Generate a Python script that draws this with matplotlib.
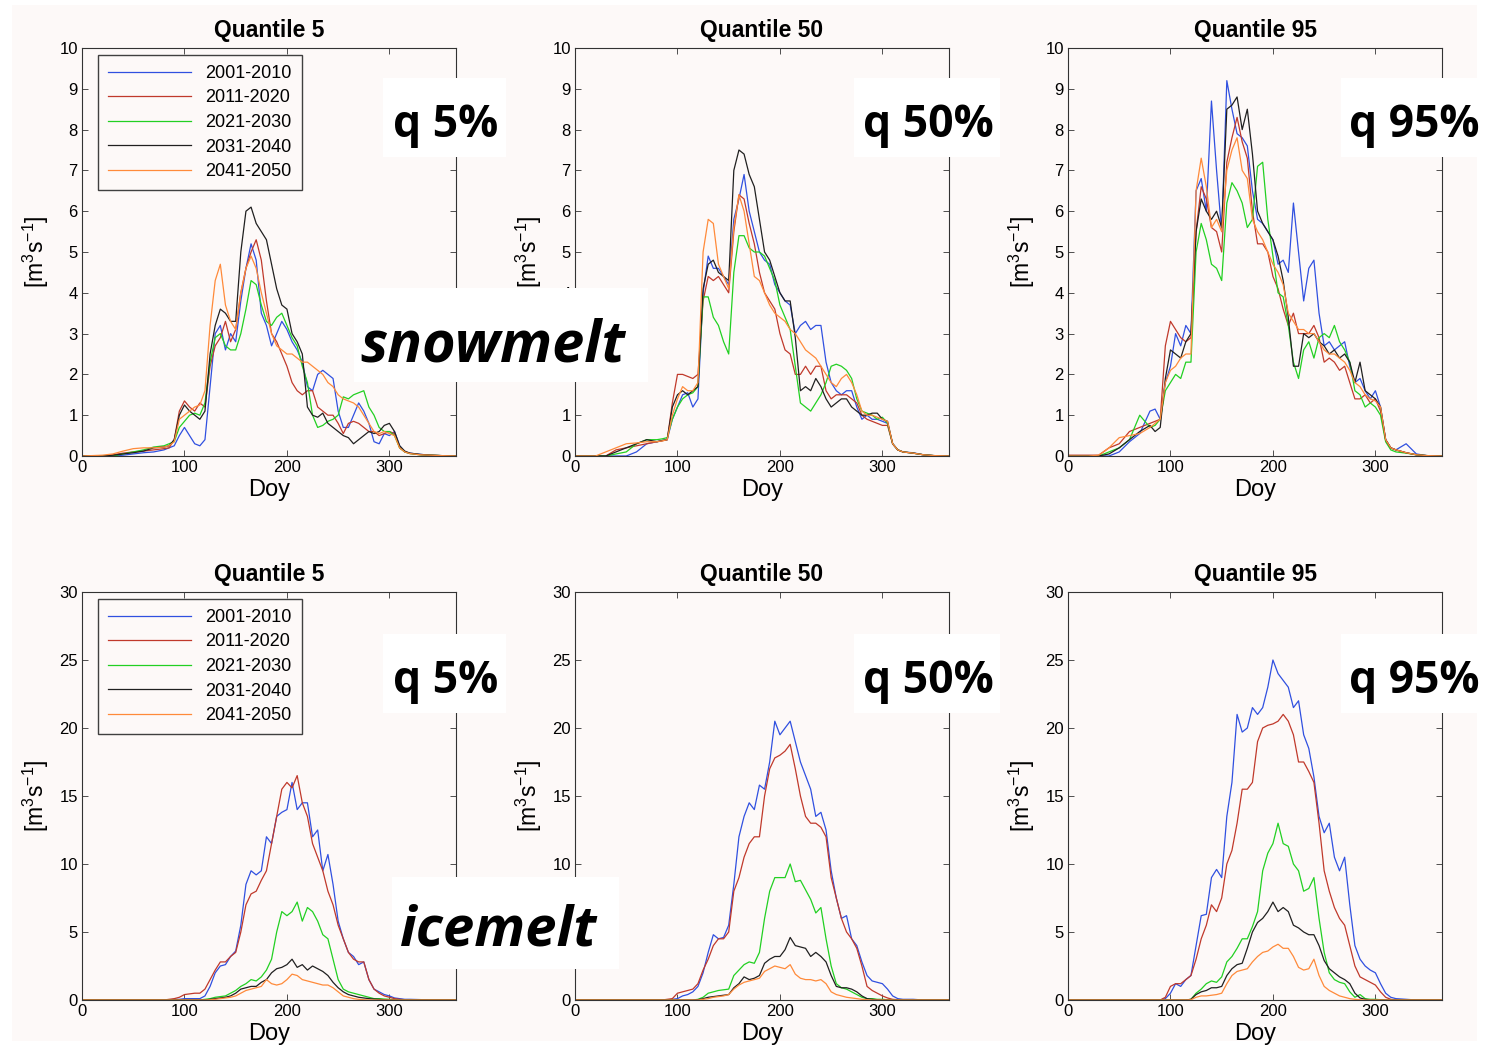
import numpy as np
import matplotlib
matplotlib.use("Agg")
import matplotlib.pyplot as plt
from matplotlib.patches import Rectangle

W, H = 1497, 1048
BG = "#fdf9f8"

# day-of-year sample points
DOY = [0, 20, 30, 40, 50, 60, 70, 80, 85,
       90, 95, 100, 105, 110, 115, 120, 125, 130, 135, 140, 145, 150,
       155, 160, 165, 170, 175, 180, 185, 190, 195, 200, 205,
       210, 215, 220, 225, 230, 235, 240, 245, 250, 255, 260, 265, 270,
       275, 280, 285, 290, 295, 300, 305, 310, 315, 320,
       330, 340, 350, 365]

PERIODS = ["2001-2010", "2011-2020", "2021-2030", "2031-2040", "2041-2050"]
QUANTILES = ["Quantile 5", "Quantile 50", "Quantile 95"]
Q_TAGS = ["q 5%", "q 50%", "q 95%"]

# ---- snowmelt, quantile 5
snow_q5_2001 = [0, 0, 0, 0.02, 0.05, 0.08, 0.1, 0.15, 0.2,
                0.25, 0.5, 0.7, 0.5, 0.3, 0.25, 0.4, 1.7, 3.0, 3.2, 2.6, 3.0, 2.8, 3.8, 4.6, 5.2, 4.8, 3.5, 3.2, 2.7, 3.0, 3.3, 3.1, 2.8,
                2.6, 2.3, 1.7, 1.6, 2.0, 2.1, 2.0, 1.9, 1.1, 0.7, 0.7, 1.0, 1.3, 1.1, 0.8, 0.35, 0.3, 0.55, 0.5, 0.6, 0.25, 0.1, 0.07,
                0.04, 0.02, 0.01, 0]
snow_q5_2011 = [0, 0, 0.03, 0.07, 0.1, 0.12, 0.15, 0.18, 0.2,
                0.4, 1.1, 1.35, 1.2, 1.1, 1.3, 1.2, 2.2, 2.7, 2.9, 3.3, 2.8, 3.1, 4.0, 4.6, 5.0, 5.3, 4.8, 3.8, 3.0, 2.8, 2.5, 2.2, 1.8,
                1.6, 1.5, 1.6, 1.6, 1.2, 1.1, 1.0, 1.0, 0.8, 0.55, 0.8, 0.85, 0.8, 0.7, 0.6, 0.6, 0.5, 0.55, 0.6, 0.55, 0.2, 0.1, 0.06,
                0.03, 0.02, 0.01, 0]
snow_q5_2021 = [0, 0, 0, 0.05, 0.1, 0.15, 0.22, 0.25, 0.3,
                0.35, 0.7, 0.85, 1.0, 1.05, 1.0, 1.3, 2.3, 2.9, 3.0, 2.7, 2.6, 2.6, 3.0, 3.6, 4.3, 4.2, 3.7, 3.3, 3.2, 3.4, 3.5, 3.2, 2.9,
                2.7, 2.2, 1.8, 1.0, 0.7, 0.75, 0.85, 0.9, 1.0, 1.45, 1.4, 1.5, 1.55, 1.6, 1.2, 1.0, 0.7, 0.6, 0.6, 0.5, 0.2, 0.1, 0.06,
                0.03, 0.02, 0.01, 0]
snow_q5_2031 = [0, 0, 0.02, 0.05, 0.08, 0.12, 0.2, 0.22, 0.25,
                0.4, 1.0, 1.25, 1.1, 1.0, 0.9, 1.1, 2.5, 3.2, 3.6, 3.5, 3.3, 3.3, 5.0, 6.0, 6.1, 5.7, 5.5, 5.3, 4.7, 4.1, 3.7, 3.6, 3.0,
                2.8, 2.5, 1.2, 1.0, 0.95, 1.05, 0.8, 0.7, 0.6, 0.5, 0.45, 0.3, 0.4, 0.5, 0.6, 0.55, 0.6, 0.75, 0.8, 0.6, 0.25, 0.12, 0.07,
                0.04, 0.02, 0.01, 0]
snow_q5_2041 = [0, 0.02, 0.05, 0.12, 0.18, 0.2, 0.2, 0.22, 0.25,
                0.35, 0.9, 1.0, 1.1, 1.2, 1.25, 1.6, 3.2, 4.3, 4.7, 3.7, 3.3, 3.1, 4.0, 4.6, 4.9, 4.6, 4.0, 3.5, 3.0, 2.7, 2.6, 2.5, 2.5,
                2.4, 2.3, 2.3, 2.2, 2.1, 2.0, 1.8, 1.7, 1.5, 1.4, 1.35, 1.3, 1.2, 1.0, 0.8, 0.6, 0.55, 0.6, 0.55, 0.5, 0.2, 0.1, 0.06,
                0.03, 0.02, 0.01, 0]

# ---- snowmelt, quantile 50
snow_q50_2001 = [0, 0, 0, 0, 0, 0.1, 0.3, 0.35, 0.38,
                 0.4, 0.9, 1.2, 1.5, 1.55, 1.2, 1.4, 4.0, 4.9, 4.6, 4.6, 4.4, 4.2, 5.8, 6.3, 6.9, 6.0, 5.5, 5.0, 4.8, 4.7, 4.2, 4.0, 3.8,
                 3.7, 3.0, 3.2, 3.3, 3.1, 3.2, 3.2, 2.3, 1.8, 1.6, 1.5, 1.6, 1.6, 1.2, 0.9, 1.0, 0.9, 0.9, 0.85, 0.8, 0.3, 0.15, 0.1,
                 0.08, 0.03, 0.01, 0]
snow_q50_2011 = [0, 0, 0, 0.15, 0.2, 0.25, 0.3, 0.35, 0.37,
                 0.4, 1.3, 2.0, 2.0, 1.95, 1.9, 2.0, 3.8, 4.4, 4.3, 4.4, 4.2, 4.0, 5.5, 6.4, 6.3, 5.7, 5.2, 4.5, 4.0, 3.8, 3.6, 3.0, 2.6,
                 2.5, 2.0, 2.0, 2.2, 2.0, 2.2, 2.2, 1.6, 1.4, 1.5, 1.5, 1.5, 1.4, 1.3, 1.0, 0.9, 0.85, 0.8, 0.75, 0.75, 0.3, 0.15, 0.1,
                 0.07, 0.03, 0.01, 0]
snow_q50_2021 = [0, 0, 0, 0.05, 0.1, 0.3, 0.4, 0.4, 0.42,
                 0.45, 0.9, 1.2, 1.4, 1.5, 1.55, 1.7, 3.9, 3.9, 3.4, 3.2, 2.8, 2.5, 4.5, 5.4, 5.4, 5.1, 5.0, 5.0, 4.9, 4.6, 4.3, 3.7, 3.4,
                 3.1, 2.2, 1.3, 1.2, 1.1, 1.3, 1.5, 1.8, 2.2, 2.25, 2.2, 2.1, 1.9, 1.4, 1.1, 1.05, 1.0, 0.9, 0.95, 0.8, 0.3, 0.15, 0.1,
                 0.07, 0.03, 0.01, 0]
snow_q50_2031 = [0, 0, 0, 0.1, 0.2, 0.3, 0.4, 0.35, 0.38,
                 0.4, 1.2, 1.5, 1.6, 1.5, 1.6, 1.7, 4.1, 4.7, 4.8, 4.5, 4.4, 4.3, 7.0, 7.5, 7.4, 6.9, 6.6, 5.8, 5.0, 4.8, 4.4, 4.0, 3.8,
                 3.8, 2.9, 1.6, 1.7, 1.6, 1.9, 1.7, 1.4, 1.2, 1.3, 1.4, 1.4, 1.2, 1.1, 1.0, 1.0, 1.05, 1.05, 0.9, 0.85, 0.3, 0.15, 0.1,
                 0.07, 0.03, 0.01, 0]
snow_q50_2041 = [0, 0, 0.1, 0.2, 0.3, 0.32, 0.35, 0.35, 0.37,
                 0.4, 1.0, 1.4, 1.7, 1.6, 1.6, 1.8, 5.0, 5.8, 5.7, 4.7, 4.4, 4.1, 5.6, 6.4, 6.0, 5.2, 4.4, 4.3, 4.0, 3.7, 3.5, 3.4, 3.3,
                 3.1, 3.0, 2.8, 2.6, 2.5, 2.4, 2.2, 2.0, 1.8, 1.7, 1.9, 2.0, 1.8, 1.5, 1.1, 1.0, 1.0, 0.95, 0.9, 0.85, 0.3, 0.15, 0.1,
                 0.07, 0.03, 0.01, 0]

# ---- snowmelt, quantile 95
snow_q95_2001 = [0, 0, 0, 0, 0.1, 0.35, 0.55, 1.1, 1.15,
                 0.9, 1.8, 2.2, 3.0, 2.7, 3.2, 3.0, 6.5, 6.8, 6.0, 8.7, 7.0, 5.5, 9.2, 8.5, 7.9, 7.8, 7.6, 6.5, 5.8, 5.7, 5.5, 5.3, 4.7,
                 4.8, 4.5, 6.2, 5.0, 3.8, 4.6, 4.8, 3.5, 2.7, 2.8, 2.6, 2.7, 2.8, 2.2, 1.8, 1.9, 1.6, 1.4, 1.6, 1.2, 0.4, 0.2, 0.15,
                 0.3, 0.05, 0.01, 0]
snow_q95_2011 = [0.02, 0.02, 0.02, 0.2, 0.3, 0.6, 0.7, 0.8, 0.85,
                 0.9, 2.7, 3.3, 3.1, 2.9, 2.8, 2.9, 5.5, 6.6, 6.3, 5.6, 5.5, 5.0, 7.2, 7.8, 8.3, 7.7, 7.3, 6.0, 5.2, 5.2, 5.0, 4.4, 4.1,
                 3.6, 3.2, 3.5, 3.0, 3.0, 3.0, 3.2, 2.9, 2.3, 2.4, 2.3, 2.1, 2.2, 1.8, 1.4, 1.4, 1.5, 1.3, 1.4, 1.1, 0.4, 0.2, 0.15,
                 0.08, 0.03, 0.01, 0]
snow_q95_2021 = [0, 0, 0, 0.1, 0.2, 0.4, 1.0, 0.7, 0.75,
                 0.9, 1.6, 1.8, 2.0, 1.9, 2.3, 2.3, 5.0, 5.7, 5.3, 4.7, 4.6, 4.3, 6.2, 6.7, 6.5, 6.2, 5.6, 5.8, 7.1, 7.2, 5.8, 4.9, 4.0,
                 3.9, 3.2, 2.3, 1.9, 2.6, 2.8, 2.4, 2.9, 3.0, 2.9, 3.2, 2.8, 2.6, 2.3, 1.6, 1.5, 1.2, 1.3, 1.2, 1.0, 0.35, 0.15, 0.1,
                 0.07, 0.03, 0.01, 0]
snow_q95_2031 = [0, 0, 0, 0.05, 0.2, 0.4, 0.6, 0.75, 0.6,
                 0.7, 1.9, 2.6, 2.5, 2.4, 2.8, 3.0, 5.5, 6.3, 6.0, 5.8, 6.0, 5.6, 8.5, 8.6, 8.8, 8.0, 8.5, 7.4, 6.0, 5.7, 5.5, 5.3, 4.9,
                 4.3, 3.4, 2.2, 2.2, 3.0, 2.9, 3.0, 2.8, 2.7, 2.5, 2.6, 2.4, 2.5, 2.3, 1.8, 2.3, 1.6, 1.5, 1.4, 1.2, 0.4, 0.2, 0.15,
                 0.08, 0.03, 0.01, 0]
snow_q95_2041 = [0, 0, 0.02, 0.2, 0.45, 0.5, 0.55, 0.7, 0.8,
                 0.9, 1.8, 2.1, 2.2, 2.4, 2.5, 2.5, 6.5, 7.3, 6.6, 5.6, 5.8, 5.5, 7.0, 7.5, 7.8, 7.0, 6.8, 5.8, 5.5, 5.3, 5.0, 4.7, 4.5,
                 4.2, 3.5, 3.3, 3.1, 3.1, 3.0, 3.0, 2.8, 2.6, 2.5, 2.5, 2.4, 2.3, 2.1, 1.8, 1.7, 1.5, 1.4, 1.35, 1.2, 0.4, 0.2, 0.15,
                 0.08, 0.03, 0.01, 0]

# ---- icemelt, quantile 5
ice_q5_2001 = [0, 0, 0, 0, 0, 0, 0, 0, 0,
               0.05, 0.05, 0.1, 0.1, 0.1, 0.1, 0.3, 1.0, 2.0, 2.5, 2.6, 3.2, 3.6, 5.5, 8.5, 9.5, 9.2, 9.5, 12.0, 11.5, 13.5, 13.8, 14.0, 16.0,
               14.0, 14.5, 14.5, 12.0, 12.5, 9.5, 10.7, 8.5, 5.8, 4.5, 3.5, 3.2, 2.6, 2.8, 1.5, 0.8, 0.6, 0.4, 0.3, 0.15, 0.1, 0.05, 0.05,
               0.03, 0, 0, 0]
ice_q5_2011 = [0, 0, 0, 0, 0, 0, 0, 0, 0.05,
               0.1, 0.2, 0.4, 0.45, 0.5, 0.5, 0.8, 1.5, 2.2, 2.8, 2.8, 3.2, 3.5, 5.0, 7.0, 7.8, 8.0, 8.8, 9.5, 11.5, 13.5, 15.5, 16.0, 15.6,
               16.5, 14.5, 13.5, 11.5, 10.5, 9.5, 8.0, 7.0, 5.5, 4.5, 3.5, 3.0, 2.8, 2.8, 1.5, 0.8, 0.5, 0.3, 0.2, 0.1, 0.05, 0.02, 0,
               0, 0, 0, 0]
ice_q5_2021 = [0, 0, 0, 0, 0, 0, 0, 0, 0,
               0, 0, 0, 0, 0, 0, 0.05, 0.1, 0.2, 0.25, 0.3, 0.5, 0.7, 1.0, 1.2, 1.5, 1.4, 1.7, 2.2, 3.0, 5.0, 6.5, 6.2, 6.5,
               7.2, 5.8, 6.8, 6.5, 5.8, 4.8, 4.5, 3.0, 1.5, 0.8, 0.6, 0.5, 0.4, 0.3, 0.2, 0.1, 0.1, 0.07, 0.05, 0.02, 0, 0, 0,
               0, 0, 0, 0]
ice_q5_2031 = [0, 0, 0, 0, 0, 0, 0, 0, 0,
               0, 0, 0, 0, 0, 0, 0, 0.05, 0.1, 0.15, 0.2, 0.3, 0.5, 0.8, 0.9, 1.0, 1.0, 1.3, 1.5, 2.0, 2.3, 2.4, 2.6, 3.0,
               2.4, 2.6, 2.2, 2.5, 2.3, 2.1, 1.8, 1.3, 0.9, 0.6, 0.4, 0.3, 0.2, 0.15, 0.1, 0.07, 0.05, 0.02, 0, 0, 0, 0, 0,
               0, 0, 0, 0]
ice_q5_2041 = [0, 0, 0, 0, 0, 0, 0, 0, 0,
               0, 0, 0, 0, 0, 0, 0, 0.02, 0.05, 0.1, 0.15, 0.2, 0.3, 0.5, 0.7, 0.8, 0.9, 1.0, 1.5, 1.2, 1.1, 1.2, 1.5, 1.9,
               1.8, 1.5, 1.4, 1.3, 1.2, 1.1, 1.1, 0.9, 0.6, 0.3, 0.2, 0.1, 0.05, 0.02, 0, 0, 0, 0, 0, 0, 0, 0, 0,
               0, 0, 0, 0]

# ---- icemelt, quantile 50
ice_q50_2001 = [0, 0, 0, 0, 0, 0, 0, 0, 0,
                0, 0.05, 0.1, 0.3, 0.4, 0.6, 1.0, 2.0, 3.5, 4.8, 4.5, 4.6, 5.5, 8.5, 12.0, 13.5, 14.5, 14.0, 15.8, 15.5, 17.5, 20.5, 19.5, 20.0,
                20.5, 19.0, 17.5, 16.5, 15.5, 13.5, 13.8, 12.5, 9.5, 7.5, 6.0, 6.2, 4.5, 4.0, 2.8, 1.8, 1.4, 1.3, 1.2, 0.8, 0.3, 0.1, 0.05,
                0.05, 0, 0, 0]
ice_q50_2011 = [0, 0, 0, 0, 0, 0, 0, 0, 0,
                0.05, 0.1, 0.5, 0.6, 0.7, 0.8, 1.2, 2.2, 3.0, 4.0, 4.5, 4.5, 5.0, 8.0, 9.0, 10.5, 11.5, 12.0, 12.0, 15.0, 17.0, 17.8, 18.0, 18.3,
                18.8, 17.0, 15.0, 13.5, 13.0, 13.0, 12.7, 12.0, 9.0, 7.5, 6.0, 5.0, 4.5, 3.8, 2.5, 1.0, 0.7, 0.5, 0.3, 0.15, 0.05, 0.02, 0,
                0, 0, 0, 0]
ice_q50_2021 = [0, 0, 0, 0, 0, 0, 0, 0, 0,
                0, 0, 0, 0, 0, 0, 0.05, 0.2, 0.5, 0.6, 0.7, 0.75, 0.8, 1.8, 2.2, 2.6, 2.8, 2.7, 3.5, 6.0, 8.0, 9.0, 9.0, 9.0,
                10.0, 8.7, 8.8, 8.1, 7.4, 6.4, 6.8, 4.5, 2.5, 1.2, 0.9, 0.8, 0.6, 0.4, 0.2, 0.1, 0.1, 0.05, 0.05, 0.02, 0, 0, 0,
                0, 0, 0, 0]
ice_q50_2031 = [0, 0, 0, 0, 0, 0, 0, 0, 0,
                0, 0, 0, 0, 0, 0, 0.02, 0.1, 0.2, 0.25, 0.3, 0.35, 0.4, 0.9, 1.2, 1.7, 1.5, 1.6, 1.8, 2.7, 3.0, 3.2, 3.2, 3.7,
                4.6, 4.0, 3.9, 3.8, 3.2, 3.5, 3.2, 2.8, 1.8, 1.0, 0.9, 0.9, 0.8, 0.6, 0.3, 0.1, 0.05, 0.02, 0, 0, 0, 0, 0,
                0, 0, 0, 0]
ice_q50_2041 = [0, 0, 0, 0, 0, 0, 0, 0, 0,
                0, 0, 0, 0, 0, 0, 0, 0.05, 0.1, 0.2, 0.25, 0.3, 0.4, 0.8, 1.1, 1.3, 1.4, 1.5, 1.6, 2.1, 2.3, 2.5, 2.4, 2.3,
                2.6, 1.9, 1.6, 1.5, 1.5, 1.4, 1.5, 1.2, 0.6, 0.4, 0.3, 0.2, 0.15, 0.1, 0.05, 0.02, 0, 0, 0, 0, 0, 0, 0,
                0, 0, 0, 0]

# ---- icemelt, quantile 95
ice_q95_2001 = [0, 0, 0, 0, 0, 0, 0, 0, 0,
                0, 0.1, 0.5, 1.2, 1.0, 1.5, 1.8, 4.0, 6.2, 6.3, 9.0, 9.6, 9.0, 13.5, 16.0, 21.0, 19.7, 20.0, 21.5, 21.0, 21.5, 23.0, 25.0, 24.0,
                23.5, 23.0, 21.5, 22.0, 19.5, 18.5, 16.4, 13.5, 12.3, 13.0, 10.5, 9.5, 10.5, 7.0, 4.0, 3.0, 2.5, 2.2, 2.0, 1.2, 0.5, 0.2, 0.1,
                0.05, 0, 0, 0]
ice_q95_2011 = [0, 0, 0, 0, 0, 0, 0, 0, 0,
                0, 0.2, 1.0, 1.2, 1.2, 1.5, 1.8, 3.0, 4.5, 5.5, 7.0, 6.5, 7.5, 10.0, 11.0, 13.0, 15.5, 15.5, 16.0, 19.0, 20.0, 20.2, 20.3, 20.5,
                21.0, 20.5, 19.5, 17.5, 17.5, 16.8, 16.0, 13.0, 9.5, 8.0, 6.8, 6.0, 5.5, 4.0, 2.5, 1.7, 1.5, 1.3, 1.1, 0.6, 0.2, 0.05, 0,
                0, 0, 0, 0]
ice_q95_2021 = [0, 0, 0, 0, 0, 0, 0, 0, 0,
                0, 0, 0, 0, 0, 0, 0.05, 0.5, 0.8, 1.2, 1.4, 1.3, 1.7, 2.8, 3.2, 3.8, 4.5, 4.5, 5.4, 6.5, 9.5, 10.8, 11.5, 13.0,
                11.5, 11.3, 10.0, 9.5, 8.0, 8.2, 9.0, 6.0, 3.5, 2.0, 1.5, 1.3, 1.2, 0.6, 0.2, 0.4, 0.1, 0.05, 0.05, 0.02, 0, 0, 0,
                0, 0, 0, 0]
ice_q95_2031 = [0, 0, 0, 0, 0, 0, 0, 0, 0,
                0, 0, 0, 0, 0, 0, 0.05, 0.4, 0.6, 0.7, 0.9, 0.9, 1.0, 1.8, 2.3, 2.6, 2.7, 3.8, 5.0, 5.7, 6.0, 6.5, 7.2, 6.5,
                6.8, 6.5, 5.5, 5.3, 5.0, 4.8, 4.8, 4.0, 2.9, 2.3, 2.0, 1.7, 1.5, 1.2, 0.5, 0.15, 0.05, 0, 0, 0, 0, 0, 0,
                0, 0, 0, 0]
ice_q95_2041 = [0, 0, 0, 0, 0, 0, 0, 0, 0,
                0, 0, 0, 0, 0, 0, 0.02, 0.2, 0.3, 0.3, 0.35, 0.4, 0.5, 1.2, 1.8, 2.1, 2.2, 2.3, 2.8, 3.2, 3.5, 3.6, 3.9, 4.1,
                3.8, 3.8, 3.2, 2.4, 2.2, 2.3, 3.0, 1.8, 1.0, 0.7, 0.5, 0.3, 0.2, 0.1, 0.05, 0.02, 0, 0, 0, 0, 0, 0, 0,
                0, 0, 0, 0]

SNOW = [
    [snow_q5_2001, snow_q5_2011, snow_q5_2021, snow_q5_2031, snow_q5_2041],
    [snow_q50_2001, snow_q50_2011, snow_q50_2021, snow_q50_2031, snow_q50_2041],
    [snow_q95_2001, snow_q95_2011, snow_q95_2021, snow_q95_2031, snow_q95_2041],
]
ICE = [
    [ice_q5_2001, ice_q5_2011, ice_q5_2021, ice_q5_2031, ice_q5_2041],
    [ice_q50_2001, ice_q50_2011, ice_q50_2021, ice_q50_2031, ice_q50_2041],
    [ice_q95_2001, ice_q95_2011, ice_q95_2021, ice_q95_2031, ice_q95_2041],
]

COLORS = ["#3050e0", "#c0392b", "#22d022", "#202020", "#ff8a3a"]

for group in SNOW + ICE:
    for s in group:
        assert len(s) == len(DOY), len(s)

plt.rcParams["font.family"] = ["Liberation Sans", "DejaVu Sans"]
plt.rcParams["mathtext.default"] = "regular"

fig = plt.figure(figsize=(W / 100, H / 100), dpi=100, facecolor="white")
fig.add_artist(Rectangle((12 / W, 1 - 1041 / H), 1465 / W, 1036 / H,
                         transform=fig.transFigure, facecolor=BG, edgecolor="none", zorder=-10))


def px_box(x0, y0, x1, y1):
    # pixel box (from top-left) -> figure fraction rect
    return [x0 / W, 1 - y1 / H, (x1 - x0) / W, (y1 - y0) / H]


lefts = [82, 575, 1068]
rows = [(48, 456, SNOW, 10, 1), (592, 1000, ICE, 30, 5)]

for top, bottom, data, ymax, ystep in rows:
    for j, left in enumerate(lefts):
        ax = fig.add_axes(px_box(left, top, left + 374, bottom))
        ax.set_facecolor(BG)
        for series, color, label in zip(data[j], COLORS, PERIODS):
            ax.plot(DOY, series, color=color, lw=0.9, label=label)
        ax.set_xlim(0, 365)
        ax.set_ylim(0, ymax)
        ax.set_xticks([0, 100, 200, 300])
        ax.set_yticks(np.arange(0, ymax + 0.1, ystep))
        ax.tick_params(direction="in", top=True, right=True, length=4, width=0.6,
                       labelsize=12, pad=3, color="#333333")
        for sp in ax.spines.values():
            sp.set_linewidth(0.8)
            sp.set_color("#333333")
        ax.set_title(QUANTILES[j], fontsize=16.5, fontweight="bold", pad=8)
        ax.set_xlabel("Doy", fontsize=17, labelpad=3)
        ax.set_ylabel(r"[m$^3$s$^{-1}$]", fontsize=16.5, labelpad=6)
        if j == 0:
            ax.legend(loc="upper left", bbox_to_anchor=(0.043, 0.983), borderaxespad=0,
                      fontsize=13, handlelength=4.6, handletextpad=0.8, labelspacing=0.42,
                      borderpad=0.55, fancybox=False, framealpha=1, facecolor=BG,
                      edgecolor="#404040")

# white label boxes laid over the panels
ov = dict(color="black", fontweight="bold", family=["Open Sans", "DejaVu Sans"], zorder=20)
q_boxes = [(383, 506, 393), (854, 1000, 863), (1341, 1477, 1349)]
for top, base in [(78, 137), (634, 693)]:
    for (x0, x1, tx), tag in zip(q_boxes, Q_TAGS):
        fig.add_artist(Rectangle((x0 / W, 1 - (top + 79) / H), (x1 - x0) / W, 79 / H,
                                 transform=fig.transFigure, facecolor="white",
                                 edgecolor="none", zorder=19))
        fig.text(tx / W, 1 - base / H, tag, fontsize=32, ha="left", va="baseline", **ov)

for (x0, y0, x1, y1), (tx, base), word, fs in [((354, 288, 648, 382), (360, 362), "snowmelt", 41.5),
                                               ((392, 877, 619, 969), (400, 945), "icemelt", 40.5)]:
    r = px_box(x0, y0, x1, y1)
    fig.add_artist(Rectangle((r[0], r[1]), r[2], r[3], transform=fig.transFigure,
                             facecolor="white", edgecolor="none", zorder=19))
    fig.text(tx / W, 1 - base / H, word, fontsize=fs, style="italic", ha="left",
             va="baseline", **ov)

fig.savefig("out.png", dpi=100, facecolor=fig.get_facecolor())
